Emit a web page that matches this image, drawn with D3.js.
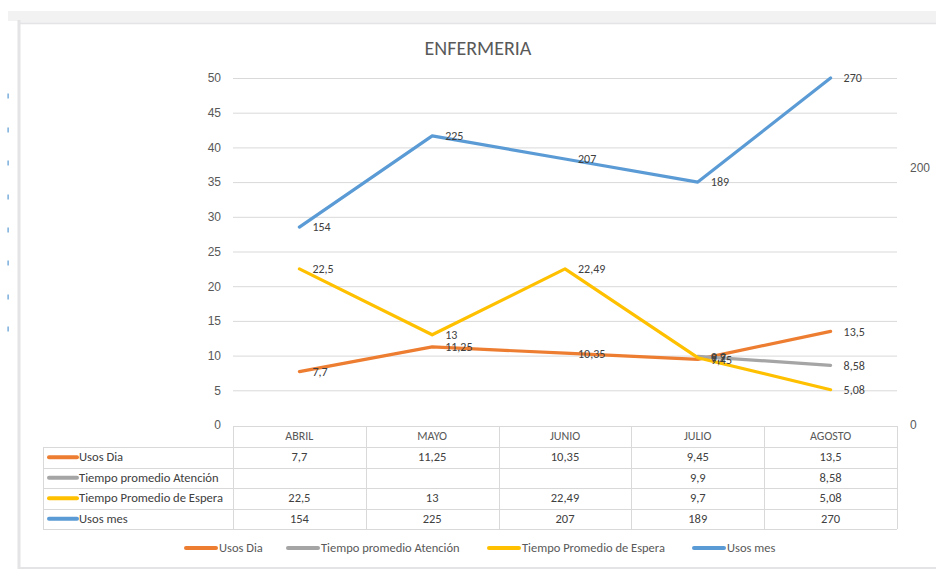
<!DOCTYPE html>
<html>
<head>
<meta charset="utf-8">
<script src="https://cdn.jsdelivr.net/npm/d3@7"></script>
<style>
  html, body { margin: 0; padding: 0; background: #fff; }
  svg { display: block; font-family: Calibri, Carlito, Lato, "Liberation Sans", sans-serif; }
</style>
</head>
<body>
<svg id="chart" width="936" height="571"></svg>
<script>
// ---- data ----
const title = "ENFERMERIA";
const categories = ["ABRIL", "MAYO", "JUNIO", "JULIO", "AGOSTO"];
const usosDia = [7.7, 11.25, 10.35, 9.45, 13.5];
const tiempoAtencion = [null, null, null, 9.9, 8.58];
const tiempoEspera = [22.5, 13, 22.49, 9.7, 5.08];
const usosMes = [154, 225, 207, 189, 270];
const leftTicks = [0, 5, 10, 15, 20, 25, 30, 35, 40, 45, 50];
const rightTicks = [0, 200];
const seriesNames = ["Usos Dia", "Tiempo promedio Atención", "Tiempo Promedio de Espera", "Usos mes"];
const seriesColors = ["#ED7D31", "#A5A5A5", "#FFC000", "#5B9BD5"];

const series = [
  { name: seriesNames[0], values: usosDia, color: seriesColors[0], axis: "L" },
  { name: seriesNames[1], values: tiempoAtencion, color: seriesColors[1], axis: "L" },
  { name: seriesNames[2], values: tiempoEspera, color: seriesColors[2], axis: "L" },
  { name: seriesNames[3], values: usosMes, color: seriesColors[3], axis: "R" }
];

const fmt = v => (v === null || v === undefined) ? "" : String(v).replace(".", ",");

const svg = d3.select("#chart");

// ---- page decorations ----
svg.append("rect").attr("x", 8).attr("y", 11).attr("width", 928).attr("height", 10).attr("fill", "#f2f2f3");
svg.append("rect").attr("x", 18).attr("y", 21).attr("width", 918).attr("height", 2).attr("fill", "#f2f2f3");
svg.append("line").attr("x1", 18).attr("x2", 936).attr("y1", 23.5).attr("y2", 23.5).attr("stroke", "#e4e4e6").attr("stroke-width", 1.5);
svg.append("line").attr("x1", 19).attr("x2", 19).attr("y1", 20).attr("y2", 569).attr("stroke", "#e4e4e6").attr("stroke-width", 3);
svg.append("line").attr("x1", 18).attr("x2", 936).attr("y1", 568).attr("y2", 568).attr("stroke", "#e4e4e6").attr("stroke-width", 2);
[96, 130, 163, 197, 230, 263, 297, 329].forEach(y => {
  svg.append("rect").attr("x", 7.5).attr("y", y - 2.5).attr("width", 1.2).attr("height", 5).attr("fill", "#5B9BD5");
});

// ---- scales ----
const plotL = 233, plotR = 897, plotT = 78, plotB = 425;
const x = d3.scaleBand().domain(categories).range([plotL, plotR]).padding(0);
const cx = c => x(c) + x.bandwidth() / 2;
const yL = d3.scaleLinear().domain([0, 50]).range([plotB, plotT]);
const yR = d3.scaleLinear().domain([0, 270]).range([plotB, plotT]);

// title
svg.append("text").attr("x", 478).attr("y", 55).attr("text-anchor", "middle")
  .attr("font-size", 20).attr("fill", "#595959").text(title);

// gridlines
svg.append("g").selectAll("line").data(leftTicks.filter(t => t > 0)).join("line")
  .attr("x1", plotL).attr("x2", plotR)
  .attr("y1", d => yL(d) + 0.5).attr("y2", d => yL(d) + 0.5)
  .attr("stroke", "#d9d9d9").attr("stroke-width", 1);

// left axis
const axL = d3.axisLeft(yL).tickValues(leftTicks).tickSize(0).tickPadding(0).tickFormat(d3.format("d"));
const gL = svg.append("g").attr("transform", "translate(221,0)").call(axL);
gL.select(".domain").remove();
gL.selectAll("text").attr("font-size", 12).attr("fill", "#595959").attr("font-family", null);

// right axis
const axR = d3.axisRight(yR).tickValues(rightTicks).tickSize(0).tickPadding(0).tickFormat(d3.format("d"));
const gR = svg.append("g").attr("transform", "translate(910,0)").call(axR);
gR.select(".domain").remove();
gR.selectAll("text").attr("font-size", 12).attr("fill", "#595959").attr("font-family", null);

// lines
series.forEach(s => {
  const ys = s.axis === "L" ? yL : yR;
  const line = d3.line()
    .defined(d => d.v !== null)
    .x(d => cx(d.c)).y(d => ys(d.v));
  const pts = categories.map((c, i) => ({ c, v: s.values[i] }));
  svg.append("path").datum(pts).attr("d", line)
    .attr("fill", "none").attr("stroke", s.color).attr("stroke-width", 3.2)
    .attr("stroke-linejoin", "round").attr("stroke-linecap", "round");
});

// data labels
series.forEach(s => {
  const ys = s.axis === "L" ? yL : yR;
  svg.append("g").selectAll("text")
    .data(categories.map((c, i) => ({ c, v: s.values[i] })).filter(d => d.v !== null))
    .join("text")
    .attr("x", d => cx(d.c) + 13)
    .attr("y", d => ys(d.v) + 1.5)
    .attr("dominant-baseline", "middle")
    .attr("font-size", 12).attr("fill", "#404040")
    .text(d => fmt(d.v));
});

// ---- data table ----
const tblL = 43;
const rowY = [426, 447, 467.5, 488, 508.5, 529];
const tg = svg.append("g");
const bc = "#d9d9d9";
tg.append("line").attr("x1", plotL).attr("x2", plotR).attr("y1", rowY[0] + 0.5).attr("y2", rowY[0] + 0.5).attr("stroke", bc);
rowY.slice(1).forEach(y => {
  tg.append("line").attr("x1", tblL).attr("x2", plotR).attr("y1", Math.round(y) + 0.5).attr("y2", Math.round(y) + 0.5).attr("stroke", bc);
});
tg.append("line").attr("x1", tblL + 0.5).attr("x2", tblL + 0.5).attr("y1", rowY[1]).attr("y2", rowY[5]).attr("stroke", bc);
categories.forEach(c => {
  const xx = Math.round(x(c)) + 0.5;
  tg.append("line").attr("x1", xx).attr("x2", xx).attr("y1", rowY[0]).attr("y2", rowY[5]).attr("stroke", bc);
});
tg.append("line").attr("x1", plotR + 0.5).attr("x2", plotR + 0.5).attr("y1", rowY[0]).attr("y2", rowY[5]).attr("stroke", bc);

// header
tg.selectAll("text.hdr").data(categories).join("text").attr("class", "hdr")
  .attr("x", d => cx(d)).attr("y", (rowY[0] + rowY[1]) / 2 + 1)
  .attr("text-anchor", "middle").attr("dominant-baseline", "middle")
  .attr("font-size", 12).attr("fill", "#595959").text(d => d);

// rows
series.forEach((s, r) => {
  const yc = (rowY[r + 1] + rowY[r + 2]) / 2 + 1;
  tg.append("line").attr("x1", 49).attr("x2", 77).attr("y1", yc - 1).attr("y2", yc - 1)
    .attr("stroke", s.color).attr("stroke-width", 4).attr("stroke-linecap", "round");
  tg.append("text").attr("x", 79).attr("y", yc).attr("dominant-baseline", "middle")
    .attr("font-size", 12.6).attr("fill", "#404040").text(s.name);
  categories.forEach((c, i) => {
    tg.append("text").attr("x", cx(c)).attr("y", yc).attr("text-anchor", "middle")
      .attr("dominant-baseline", "middle").attr("font-size", 12.5).attr("fill", "#404040")
      .text(fmt(s.values[i]));
  });
});

// ---- legend ----
const legX = [186, 288, 489, 694];
const lg = svg.append("g");
series.forEach((s, i) => {
  lg.append("line").attr("x1", legX[i]).attr("x2", legX[i] + 30).attr("y1", 548).attr("y2", 548)
    .attr("stroke", s.color).attr("stroke-width", 4).attr("stroke-linecap", "round");
  lg.append("text").attr("x", legX[i] + 33).attr("y", 549).attr("dominant-baseline", "middle")
    .attr("font-size", 12.5).attr("fill", "#595959").text(s.name);
});
</script>
</body>
</html>
